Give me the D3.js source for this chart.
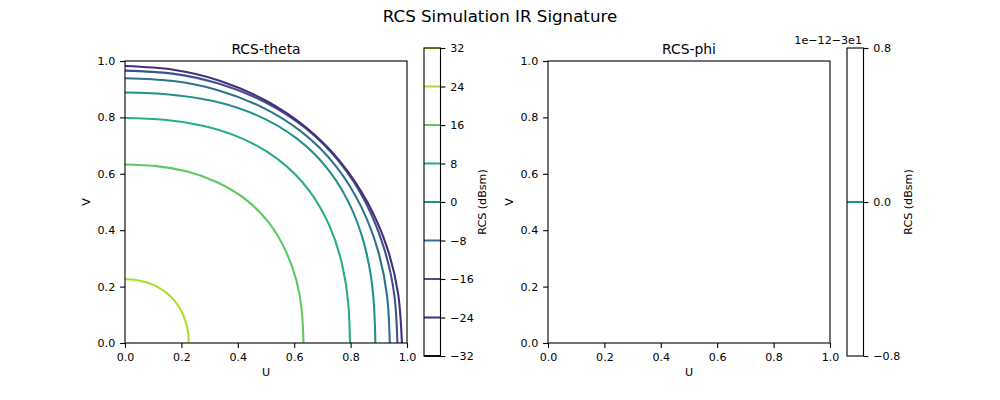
<!DOCTYPE html>
<html>
<head>
<meta charset="utf-8">
<title>RCS Simulation IR Signature</title>
<script src="https://d3js.org/d3.v7.min.js"></script>
<style>
body { margin: 0; background: white; }
text { font-family: "DejaVu Sans"; fill: black; }
</style>
</head>
<body>
<div id="my_dataviz"></div>
<script>
// contour levels (dBsm) and the points
var levels = [24, 16, 8, 0, -8, -16, -24];
var contourU = [
  [0, .0394, .0780, .1150, .1485, .1770, .1992, .2142, .2236, .226],
  [0, .1106, .2213, .3285, .4275, .5094, .5690, .6080, .6273, .633],
  [0, .1396, .2801, .4180, .5451, .6496, .7240, .7696, .7918, .798],
  [0, .1554, .3123, .4665, .6087, .7254, .8080, .8579, .8814, .888],
  [0, .1639, .3266, .4835, .6274, .7477, .8374, .8974, .9297, .939],
  [0, .1684, .3345, .4940, .6396, .7622, .8556, .9190, .9553, .966],
  [0, .1709, .3383, .4970, .6415, .7645, .8608, .9294, .9691, .982]
];
var contourV = [
  [.226, .2236, .2142, .1992, .1770, .1485, .1150, .0780, .0394, 0],
  [.633, .6273, .6080, .5690, .5094, .4275, .3285, .2213, .1106, 0],
  [.798, .7918, .7696, .7240, .6496, .5451, .4180, .2801, .1396, 0],
  [.888, .8814, .8579, .8080, .7254, .6087, .4665, .3123, .1554, 0],
  [.939, .9297, .8974, .8374, .7477, .6274, .4835, .3266, .1639, 0],
  [.966, .9553, .9190, .8556, .7622, .6396, .4940, .3345, .1684, 0],
  [.982, .9691, .9294, .8608, .7645, .6415, .4970, .3383, .1709, 0]
];
var axisTicks = [0, 0.2, 0.4, 0.6, 0.8, 1.0];
var thetaBarTicks = [-32, -24, -16, -8, 0, 8, 16, 24, 32];
var phiBarTicks = [-0.8, 0, 0.8];
var phiBarLevels = [0];

var size = 282, axTop = 61, barTop = 48, barBottom = 356;
var svg = d3.select("#my_dataviz").append("svg")
    .attr("width", 1000).attr("height", 400).style("display", "block");

var color = d3.scaleSequential(d3.interpolateViridis).domain([-32, 32]);

svg.append("text").attr("x", 500).attr("y", 22)
    .attr("text-anchor", "middle").style("font-size", "16.67px")
    .text("RCS Simulation IR Signature");

function panel(left, title) {
    var xs = d3.scaleLinear().domain([0, 1]).range([left, left + size]);
    var ys = d3.scaleLinear().domain([0, 1]).range([axTop + size, axTop]);
    var g = svg.append("g");
    g.append("g").attr("transform", "translate(0," + (axTop + size) + ")")
        .call(d3.axisBottom(xs).tickValues(axisTicks).tickFormat(d3.format(".1f")).tickSize(4.9).tickPadding(4.9));
    g.append("g").attr("transform", "translate(" + left + ",0)")
        .call(d3.axisLeft(ys).tickValues(axisTicks).tickFormat(d3.format(".1f")).tickSize(4.9).tickPadding(4.9));
    g.selectAll(".tick text").style("font-size", "11.11px").style("font-family", "DejaVu Sans");
    g.selectAll(".tick line").attr("stroke-width", 1.1);
    g.selectAll(".domain").remove();
    g.append("text").attr("x", left + size / 2).attr("y", axTop - 7.5)
        .attr("text-anchor", "middle").style("font-size", "13.89px").text(title);
    g.append("text").attr("x", left + size / 2).attr("y", 376)
        .attr("text-anchor", "middle").style("font-size", "11.11px").text("U");
    g.append("text").attr("transform", "translate(" + (left - 35.5) + "," + (axTop + size / 2) + ")rotate(-90)")
        .attr("text-anchor", "middle").style("font-size", "11.11px").text("V");
    return {g: g, xs: xs, ys: ys, left: left};
}

function spines(p) {
    p.g.append("rect").attr("x", p.left).attr("y", axTop).attr("width", size).attr("height", size)
        .attr("fill", "none").attr("stroke", "black").attr("stroke-width", 1.1);
}

function colorbar(left, width, domain, ticks, lvls, fmt, labelX) {
    var ys = d3.scaleLinear().domain(domain).range([barBottom, barTop]);
    var g = svg.append("g");
    var clipId = "clip" + left;
    g.append("clipPath").attr("id", clipId).append("rect")
        .attr("x", left).attr("y", barTop - 1).attr("width", width).attr("height", barBottom - barTop + 2);
    g.append("g").attr("clip-path", "url(#" + clipId + ")").selectAll("line").data(lvls).enter().append("line")
        .attr("x1", left).attr("x2", left + width)
        .attr("y1", function(d) { return ys(d); }).attr("y2", function(d) { return ys(d); })
        .attr("stroke", function(d) { return color(d); })
        .attr("stroke-width", 2.08);
    var ax = g.append("g").attr("transform", "translate(" + (left + width) + ",0)")
        .call(d3.axisRight(ys).tickValues(ticks).tickFormat(fmt).tickSize(4.9).tickPadding(4.9));
    ax.selectAll(".tick text").style("font-size", "11.11px").style("font-family", "DejaVu Sans");
    ax.selectAll(".tick line").attr("stroke-width", 1.1);
    ax.select(".domain").remove();
    g.append("rect").attr("x", left).attr("y", barTop).attr("width", width).attr("height", barBottom - barTop)
        .attr("fill", "none").attr("stroke", "black").attr("stroke-width", 1.1);
    g.append("text").attr("transform", "translate(" + labelX + ",202)rotate(-90)")
        .attr("text-anchor", "middle").style("font-size", "11.11px").text("RCS (dBsm)");
}

// left panel
var theta = panel(125, "RCS-theta");
var line = d3.line()
    .x(function(d) { return theta.xs(d[0]); })
    .y(function(d) { return theta.ys(d[1]); })
    .curve(d3.curveNatural);
levels.forEach(function(lvl, i) {
    theta.g.append("path")
        .datum(d3.zip(contourU[i], contourV[i]))
        .attr("d", line)
        .attr("fill", "none")
        .attr("stroke", color(lvl))
        .attr("stroke-width", 2.08);
});
spines(theta);
colorbar(424, 16.5, [-32, 32], thetaBarTicks, thetaBarTicks, d3.format("d"), 486);

// right panel, flat field so nothing to contour
var phi = panel(548, "RCS-phi");
spines(phi);
colorbar(847, 16.5, [-0.8, 0.8], phiBarTicks, phiBarLevels, d3.format(".1f"), 912);
svg.append("text").attr("x", 862).attr("y", 44)
    .attr("text-anchor", "end").style("font-size", "11.11px").text("1e\u221212\u22123e1");
</script>
</body>
</html>
